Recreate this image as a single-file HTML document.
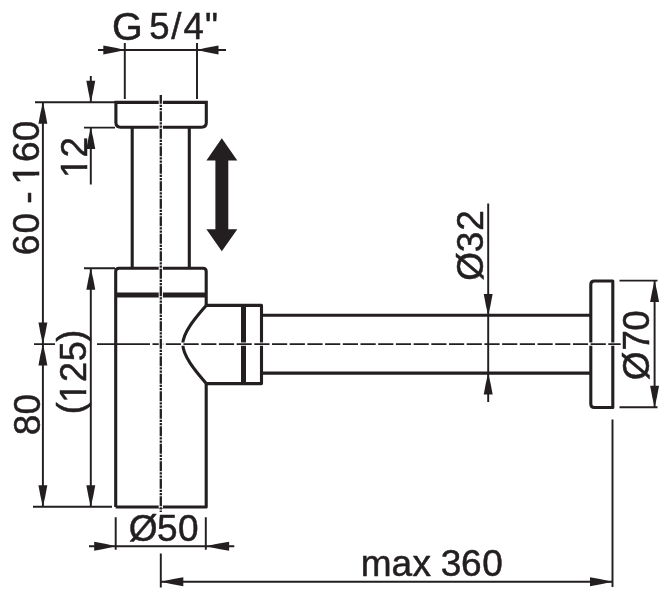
<!DOCTYPE html>
<html lang="en">
<head>
<meta charset="utf-8">
<title>Siphon dimension drawing</title>
<style>
html,body{margin:0;padding:0;background:#fff;}
body{width:671px;height:600px;overflow:hidden;}
svg{display:block;will-change:transform;}
text{font-family:"Liberation Sans",sans-serif;fill:#231f20;stroke:#231f20;stroke-width:0.5;stroke-linejoin:round;}
.k{stroke:#231f20;stroke-width:3.1;fill:none;stroke-linejoin:round;stroke-linecap:butt;}
.t{stroke:#231f20;stroke-width:1.95;fill:none;}
.c{stroke:#231f20;stroke-width:1.6;fill:none;}
.a{fill:#231f20;stroke:none;}
</style>
</head>
<body>
<svg width="671" height="600" viewBox="0 0 671 600">
<rect width="671" height="600" fill="#fff"/>

<!-- thick outlines of the siphon -->
<g class="k">
  <path d="M115.9 102.4H206.3V122.5Q206.3 127.2 201.6 127.2H120.6Q115.9 127.2 115.9 122.5Z" style="stroke-linejoin:miter"/>
  <path d="M132.2 127V268M189.3 127V268"/>
  <path d="M115.7 507V271.5Q115.7 268.3 119 268.3H203Q206.2 268.3 206.2 271.5V305.4"/>
  <path d="M206.2 383.6V507H115.7"/>
  <path d="M206.2 305.4H261.5V383.6H206.2"/>
  <path d="M206.2 305.4C199.5 313.6 182.8 331 182.8 344.3C182.8 357.5 199.5 375.4 206.2 383.6"/>
  <path d="M261.5 315.3H590.8M261.5 373.1H590.8"/>
  <path d="M612.8 281H594.3Q590.8 281 590.8 284.5V404Q590.8 407.5 594.3 407.5H612.8Z"/>
</g>
<path d="M115.7 295H206.2" stroke="#231f20" stroke-width="5" fill="none"/>
<path d="M243.5 305.4V383.6" stroke="#231f20" stroke-width="5" fill="none"/>

<!-- centre lines -->
<path d="M178 344.1H266M586 344.1H617" stroke="#fff" stroke-width="3.4" fill="none"/>
<path class="c" d="M34 344.1H55M97 344.1H150"/>
<path class="c" d="M152.5 344.1H620.7" stroke-dasharray="15.2 2.5" stroke-dashoffset="4.4"/>
<path d="M160.8 100V508" stroke="#fff" stroke-width="4.2" fill="none"/>
<path class="c" d="M160.8 95V512" stroke-dasharray="10 1 2.2 1 2.3 1" stroke-dashoffset="1.2" style="stroke-width:2.3"/>

<!-- thin dimension and extension lines -->
<g class="t">
  <path d="M98 50H226M124.8 43V99M197 43V99"/>
  <path d="M35 102.3H115M84 127.6H115M84 268.3H115M33 506.8H112"/>
  <path d="M42.9 102.3V506.8"/>
  <path d="M90.8 76V102.3M90.8 127.6V184.5"/>
  <path d="M90.8 268.3V506.8"/>
  <path d="M89 546.3H234.3M115.7 517.3V549.8M205.8 517.3V549.8"/>
  <path d="M160.8 553.5V587.5M160.8 581.7H612.5M612.5 419.5V587"/>
  <path d="M488.2 203.5V402"/>
  <path d="M619.5 280.6H657.5M619.5 407.2H657.5M654.6 280.6V407.2"/>
</g>

<!-- arrow heads -->
<g class="a">
<path d="M124.8 50Q114.05 47.33 103.3 45.55V54.45Q114.05 52.67 124.8 50Z"/>
<path d="M197 50Q207.75 47.33 218.5 45.55V54.45Q207.75 52.67 197 50Z"/>
<path d="M42.9 102.3Q40.23 113.05 38.45 123.8H47.35Q45.57 113.05 42.9 102.3Z"/>
<path d="M42.9 344.1Q40.23 333.35 38.45 322.6H47.35Q45.57 333.35 42.9 344.1Z"/>
<path d="M42.9 344.1Q40.23 354.85 38.45 365.6H47.35Q45.57 354.85 42.9 344.1Z"/>
<path d="M42.9 506.8Q40.23 496.05 38.45 485.3H47.35Q45.57 496.05 42.9 506.8Z"/>
<path d="M90.8 102.3Q88.13 91.55 86.35 80.8H95.25Q93.47 91.55 90.8 102.3Z"/>
<path d="M90.8 127.6Q88.13 138.35 86.35 149.1H95.25Q93.47 138.35 90.8 127.6Z"/>
<path d="M90.8 268.3Q88.13 279.05 86.35 289.8H95.25Q93.47 279.05 90.8 268.3Z"/>
<path d="M90.8 506.8Q88.13 496.05 86.35 485.3H95.25Q93.47 496.05 90.8 506.8Z"/>
<path d="M115.7 546.3Q104.95 543.63 94.2 541.85V550.75Q104.95 548.97 115.7 546.3Z"/>
<path d="M205.8 546.3Q217.45 543.63 229.1 541.85V550.75Q217.45 548.97 205.8 546.3Z"/>
<path d="M160.8 581.7Q172.05 579.03 183.3 577.25V586.15Q172.05 584.37 160.8 581.7Z"/>
<path d="M612.5 581.7Q601.25 579.03 590 577.25V586.15Q601.25 584.37 612.5 581.7Z"/>
<path d="M488.2 315.5Q485.53 304.75 483.75 294H492.65Q490.87 304.75 488.2 315.5Z"/>
<path d="M488.2 373Q485.53 383.75 483.75 394.5H492.65Q490.87 383.75 488.2 373Z"/>
<path d="M654.6 280.6Q651.93 291.35 650.15 302.1H659.05Q657.27 291.35 654.6 280.6Z"/>
<path d="M654.6 407.2Q651.93 396.45 650.15 385.7H659.05Q657.27 396.45 654.6 407.2Z"/>
<path d="M221.8 138.3L237.3 160.6H228.3V229.3H237.3L221.8 251.2L206.4 229.3H215.4V160.6H206.4Z"/>
</g>

<!-- labels -->
<g transform="translate(112.02 39.2)"><text font-size="36.5"><tspan font-size="39.5" x="0 30.72" y="0.4 0">G </tspan><tspan x="37.27 59.21 71.45 92.95" y="0 0 0 0">5/4&quot;</tspan></text></g>
<g transform="translate(39 255.17) rotate(-90)"><text font-size="37" x="0 21.63 42.2 51.35 63.68 70.73 93.1 113.98">60 - 160</text><rect x="71.89" y="-3.91" width="7.89" height="5.31" fill="#fff"/><rect x="83.55" y="-3.91" width="7.59" height="5.31" fill="#fff"/></g>
<g transform="translate(86.9 177.94) rotate(-90)"><text font-size="37" x="0 20.5">12</text><rect x="1.16" y="-3.91" width="7.89" height="5.31" fill="#fff"/><rect x="12.82" y="-3.91" width="7.59" height="5.31" fill="#fff"/></g>
<g transform="translate(85.5 414.2) rotate(-90)"><text font-size="36" x="0 11.46 32.19 52.98 72.52" y="-2.9 0 0 0 -2.9">(125)</text><rect x="12.55" y="-3.84" width="7.72" height="5.24" fill="#fff"/><rect x="23.94" y="-3.84" width="7.42" height="5.24" fill="#fff"/></g>
<g transform="translate(39.6 435.19) rotate(-90)"><text font-size="37" x="0 20.8">80</text></g>
<g transform="translate(128.69 540.8)"><text font-size="37" x="0 28.26 49.42">Ø50</text></g>
<g transform="translate(360.78 575.6)"><text font-size="37" x="0 30.64 51.61 70.11 80.09 100.2 121.53">max 360</text></g>
<g transform="translate(483 280.76) rotate(-90)"><text font-size="37" x="0 28.48 50.02">Ø32</text></g>
<g transform="translate(648.9 380.21) rotate(-90)"><text font-size="37" x="0 29.35 49.52">Ø70</text></g>
</svg>
</body>
</html>
